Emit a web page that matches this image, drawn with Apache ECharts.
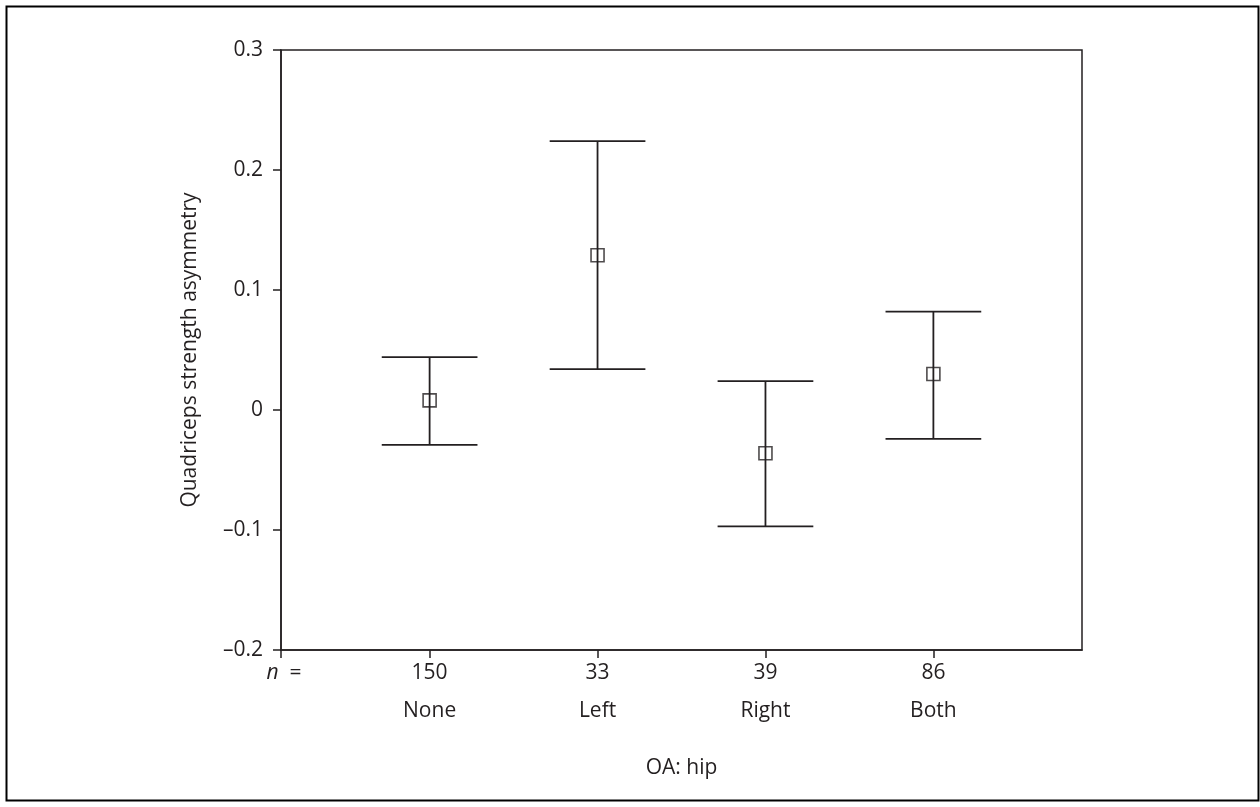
<!DOCTYPE html>
<html>
<head>
<meta charset="utf-8">
<script src="https://cdn.jsdelivr.net/npm/echarts@6/dist/echarts.min.js"></script>
<style>
html,body{margin:0;padding:0;background:#fff;}
#chart{width:1260px;height:807px;}
</style>
</head>
<body>
<div id="chart"></div>
<script>
var categories = ['None', 'Left', 'Right', 'Both'];
var counts = [150, 33, 39, 86];
var means = [0.008, 0.129, -0.036, 0.030];
var upper = [0.044, 0.224, 0.024, 0.082];
var lower = [-0.029, 0.034, -0.097, -0.024];
var yTicks = [-0.2, -0.1, 0, 0.1, 0.2, 0.3];

var X_MIN = 0.115, X_MAX = 4.885, CAP = 0.285;
var positions = categories.map(function (c, i) { return i + 1; });
var ink = '#231f20';
var font = 'Open Sans';
var fs = 21;

var barData = positions.map(function (p, i) { return [p, lower[i], upper[i]]; });
var meanData = positions.map(function (p, i) { return [p, means[i]]; });

var chart = echarts.init(document.getElementById('chart'));
chart.setOption({
  animation: false,
  backgroundColor: '#fff',
  graphic: [{
    type: 'rect',
    shape: { x: 6.5, y: 6.5, width: 1252, height: 794 },
    style: { fill: 'none', stroke: '#000', lineWidth: 2 },
    silent: true
  }],
  grid: {
    left: 281, top: 50, right: 178, bottom: 157,
    show: true, borderColor: ink, borderWidth: 1.5, backgroundColor: 'transparent'
  },
  xAxis: {
    type: 'value',
    min: X_MIN, max: X_MAX,
    name: 'OA: hip',
    nameLocation: 'middle',
    nameGap: 108,
    nameTextStyle: { fontFamily: font, fontSize: fs, color: ink },
    splitLine: { show: false },
    axisLine: { show: true, onZero: false, lineStyle: { color: ink, width: 1.5 } },
    axisTick: { show: true, length: 8, inside: false, customValues: [X_MIN].concat(positions), lineStyle: { color: ink, width: 1.5 } },
    axisLabel: {
      customValues: [X_MIN].concat(positions),
      margin: 13,
      color: ink,
      fontFamily: font,
      fontSize: fs,
      formatter: function (v) {
        if (v < 0.5) return '{sp|   }{it|n}{n|  =}\n{c| }';
        var i = Math.round(v) - 1;
        return '{n|' + counts[i] + '}\n{c|' + categories[i] + '}';
      },
      rich: {
        it: { fontFamily: font, fontStyle: 'italic', fontSize: fs, color: ink, lineHeight: 21 },
        n: { fontFamily: font, fontSize: fs, color: ink, lineHeight: 21 },
        sp: { fontFamily: font, fontSize: 8, color: ink, lineHeight: 21 },
        c: { fontFamily: font, fontSize: fs, color: ink, lineHeight: 54 }
      }
    }
  },
  yAxis: {
    type: 'value',
    min: -0.2, max: 0.3, interval: 0.1,
    name: 'Quadriceps strength asymmetry',
    nameLocation: 'middle',
    nameGap: 80,
    nameTextStyle: { fontFamily: font, fontSize: fs, color: ink },
    splitLine: { show: false },
    axisLine: { show: true, onZero: false, lineStyle: { color: ink, width: 1.5 } },
    axisTick: { show: true, length: 8, inside: false, lineStyle: { color: ink, width: 1.5 } },
    axisLabel: {
      margin: 18,
      color: ink,
      fontFamily: font,
      fontSize: fs,
      formatter: function (v) {
        if (Math.abs(v) < 1e-9) return '0';
        return v.toFixed(1).replace('-', '\u2013');
      }
    }
  },
  series: [{
    type: 'custom',
    data: barData,
    renderItem: function (params, api) {
      var x = api.value(0), lo = api.value(1), hi = api.value(2);
      var pTop = api.coord([x, hi]);
      var pBot = api.coord([x, lo]);
      var tl = api.coord([x - CAP, hi]), tr = api.coord([x + CAP, hi]);
      var bl = api.coord([x - CAP, lo]), br = api.coord([x + CAP, lo]);
      var st = { stroke: ink, lineWidth: 1.8 };
      return {
        type: 'group',
        children: [
          { type: 'line', shape: { x1: pTop[0], y1: pTop[1], x2: pBot[0], y2: pBot[1] }, style: st },
          { type: 'line', shape: { x1: tl[0], y1: tl[1], x2: tr[0], y2: tr[1] }, style: st },
          { type: 'line', shape: { x1: bl[0], y1: bl[1], x2: br[0], y2: br[1] }, style: st }
        ]
      };
    },
    z: 2
  }, {
    type: 'scatter',
    data: meanData,
    symbol: 'rect',
    symbolSize: 13,
    itemStyle: { color: 'rgba(0,0,0,0)', borderColor: ink, borderWidth: 1.6 },
    z: 3
  }]
});
</script>
</body>
</html>
